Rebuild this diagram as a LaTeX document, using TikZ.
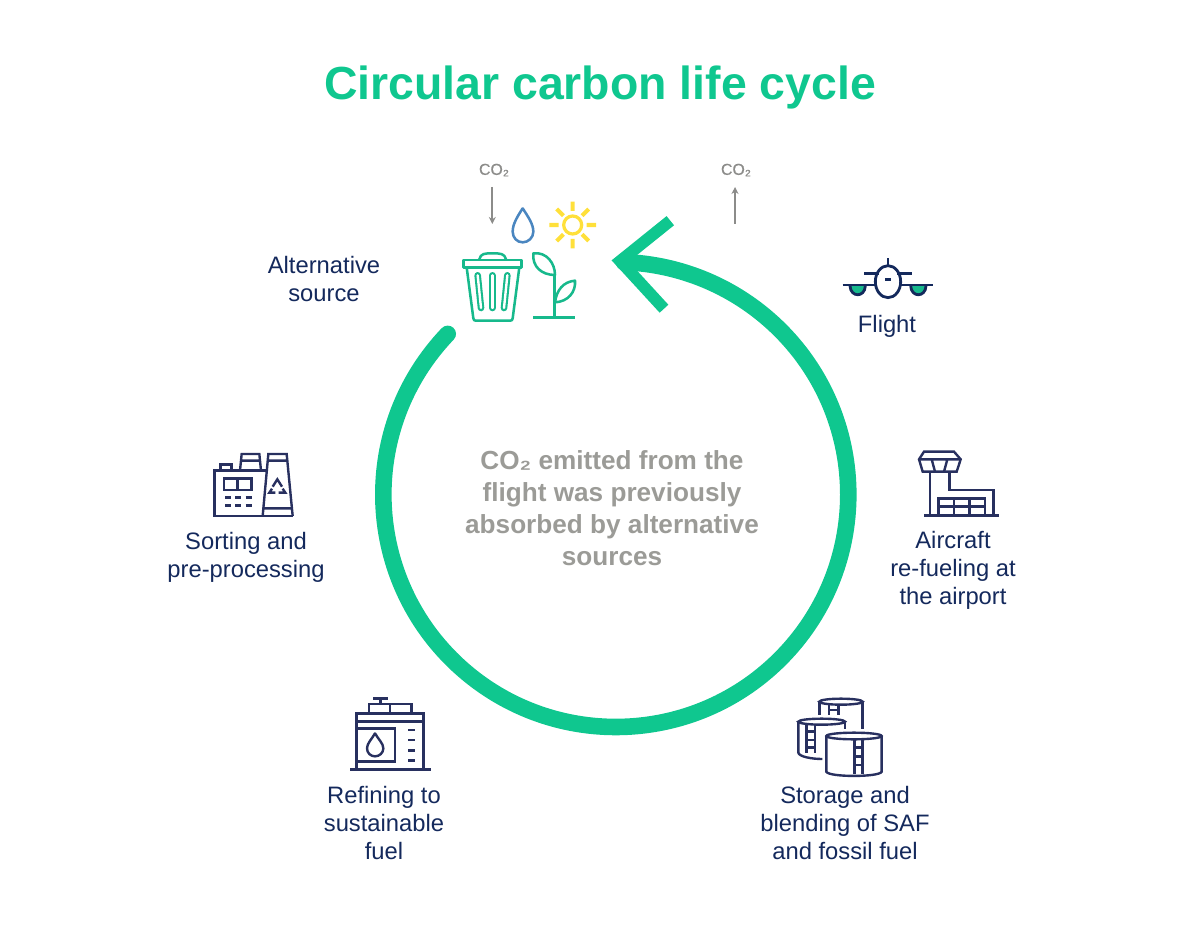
\documentclass[tikz,border=0pt]{standalone}
\usepackage{fontspec}
\setmainfont{Liberation Sans}
\usetikzlibrary{arrows.meta}
\definecolor{cgreen}{HTML}{0FC78F}
\definecolor{igreen}{HTML}{17B98C}
\definecolor{navy}{HTML}{14295C}
\definecolor{iconnavy}{HTML}{28305F}
\definecolor{cgrey}{HTML}{9B9B97}
\definecolor{agrey}{HTML}{8C8C8A}
\definecolor{cblue}{HTML}{4A86C0}
\definecolor{csun}{HTML}{FFE03A}
\tikzset{
  lab/.style={inner sep=0pt,align=center,text=navy,font=\fontsize{16.9}{19.8}\selectfont},
  midtext/.style={inner sep=0pt,align=center,text=cgrey,font=\fontsize{18.6}{22.7}\selectfont\bfseries},
  co/.style={inner sep=0pt,text=agrey,font=\fontsize{11.3}{13}\selectfont\addfontfeature{FakeBold=0.4}},
  titletext/.style={inner sep=0pt,text=cgreen,font=\fontsize{33}{40}\selectfont\bfseries},
  ring/.style={draw=cgreen,line width=11.8pt,line cap=round},
  head/.style={draw=cgreen,line width=8.4pt,miter limit=10},
  co2arrow/.style={draw=agrey,line width=1.2pt,-{Stealth[length=5pt,width=5pt]}},
  ico/.style={draw=iconnavy,line width=1.7pt},
  plane/.style={draw=navy,line width=2pt},
  gico/.style={draw=igreen,line width=1.8pt,line join=round},
  slot/.style={draw=igreen,line width=1.5pt,double=white,double distance=1.7pt,line cap=round},
  zoomed/.style={shift={#1},scale=1/3}
}
\begin{document}
\begin{tikzpicture}[x=0.025cm,y=-0.025cm]
\useasboundingbox (0,0) rectangle (1200,938);

\node[titletext] (title) at (600,88) {Circular carbon life cycle};

% ring
\coordinate (ringc) at (615.8,494.5);
\draw[ring] ([shift={(223.7:232.5)}]ringc) arc [start angle=223.7,end angle=-88,radius=232.5];
\coordinate (barbA) at (670.3,220.7);
\coordinate (barbV) at (620.2,261);
\coordinate (barbB) at (664,308.7);
\draw[head] (barbA) -- (barbV) -- (barbB);

% CO2
\node[co] (coL) at (494,170) {CO₂};
\node[co] (coR) at (736,170) {CO₂};
\coordinate (coLa) at (492.3,187);
\coordinate (coLb) at (492.3,224);
\coordinate (coRa) at (735,224);
\coordinate (coRb) at (735,187);
\draw[co2arrow] (coLa) -- (coLb);
\draw[co2arrow] (coRa) -- (coRb);

% icons top (zoom 1 coordinates)
\begin{scope}[zoomed={(440,150)}]
  % drop
  \draw[draw=cblue,line width=1.8pt,line join=round] (248,175) .. controls (232,200) and (218,222) .. (218,245)
     .. controls (218,263) and (231,277) .. (248,277) .. controls (265,277) and (280,263) .. (280,245)
     .. controls (280,222) and (264,200) .. cycle;
  % sun
  \draw[draw=csun,line width=2.3pt] (398,225) circle [radius=27];
  \draw[draw=csun,line width=2.9pt]
    (398,155)--(398,183) (398,267)--(398,295) (328,225)--(356,225) (440,225)--(468,225)
    (350,177)--(370,197) (426,253)--(446,273) (350,273)--(370,253) (426,197)--(446,177);
  % bin
  \draw[gico] (70,330) rectangle (245,352);
  \draw[gico] (118,328) .. controls (122,310) and (135,310) .. (157,310) .. controls (180,310) and (194,310) .. (198,328);
  \draw[gico] (80,352) -- (100,505) .. controls (101,511) and (103,512) .. (108,512) -- (210,512) .. controls (215,512) and (217,511) .. (218,505) -- (238,352);
  \draw[slot] (113,376) -- (123,474);
  \draw[slot] (157,376) -- (157,474);
  \draw[slot] (202,376) -- (192,474);
  % plant
  \draw[gico,line width=2.2pt] (280,503) -- (405,503);
  \draw[gico] (343,503) -- (343,372);
  \draw[gico] (280,310) .. controls (320,305) and (345,340) .. (345,375) .. controls (305,375) and (276,350) .. cycle;
  \draw[gico] (345,457) .. controls (350,420) and (370,395) .. (405,392) .. controls (408,425) and (385,455) .. cycle;
\end{scope}

% plane and tower (zoom 2 coordinates)
\begin{scope}[zoomed={(830,250)}]
  \fill[igreen] (60,108) .. controls (62,143) and (104,143) .. (106,108) -- cycle;
  \fill[igreen] (242,108) .. controls (244,143) and (286,143) .. (288,108) -- cycle;
  \draw[plane] (60,108) .. controls (62,143) and (104,143) .. (106,108);
  \draw[plane] (242,108) .. controls (244,143) and (286,143) .. (288,108);
  \draw[plane] (174,95) ellipse [x radius=38,y radius=48];
  \draw[plane] (38,105)--(136,105) (212,105)--(310,105) (103,70)--(146,70) (202,70)--(245,70) (174,25)--(174,47) (166,88)--(182,88);
  % tower
  \draw[ico] (282,605)--(372,605)--(392,628)--(380,665)--(278,665)--(267,628)--cycle;
  \draw[ico] (267,628)--(392,628) (305,628)--(315,665) (352,628)--(342,665);
  \draw[ico] (300,665)--(300,797) (358,665)--(358,720)--(490,720)--(490,797);
  \draw[ico] (282,797)--(508,797);
  \draw[ico] (325,797)--(325,745)--(465,745)--(465,797) (325,770)--(465,770) (372,745)--(372,797) (418,745)--(418,797);
\end{scope}

% factory
\begin{scope}[zoomed={(200,440)}]
  \draw[ico] (43,228)--(43,92)--(200,92);
  \draw[ico] (40,228)--(280,228);
  \draw[ico] (72,115) rectangle (155,150) (113,115)--(113,150);
  \draw[ico] (75,172)--(92,172) (105,172)--(122,172) (137,172)--(155,172) (75,197)--(92,197) (105,197)--(122,197) (137,197)--(155,197);
  \draw[ico] (62,92)--(62,73)--(95,73)--(95,92);
  \draw[ico] (120,92)--(125,42)--(178,42)--(183,92) (122,62)--(180,62);
  \draw[ico] (188,228)--(205,42)--(260,42)--(278,228) (203,62)--(262,62) (192,205)--(274,205);
  \draw[ico] (218,140)--(232,118)--(246,140) (248,146)--(256,158)--(236,158) (226,158)--(208,158)--(216,146);
\end{scope}

% refinery
\begin{scope}[zoomed={(340,690)}]
  \draw[ico] (100,25)--(145,25) (122,25)--(122,42);
  \draw[ico] (87,70)--(87,42)--(215,42)--(215,70) (150,42)--(150,70);
  \draw[ico] (50,238)--(50,70)--(250,70)--(250,238) (50,95)--(250,95);
  \draw[ico] (30,238)--(272,238);
  \draw[ico] (50,115)--(165,115)--(165,215)--(50,215);
  \draw[ico,line join=round] (105,130) .. controls (95,148) and (81,160) .. (81,175) .. controls (81,189) and (92,199) .. (105,199) .. controls (118,199) and (130,189) .. (130,175) .. controls (130,160) and (115,148) .. cycle;
  \draw[ico] (205,120)--(225,120) (205,150)--(225,150) (205,182)--(225,182) (205,212)--(225,212);
\end{scope}

% tanks
\begin{scope}[zoomed={(785,690)}]
  \draw[ico] (168,35) ellipse [x radius=65,y radius=9];
  \draw[ico] (103,35)--(103,75) (233,35)--(233,118);
  \draw[ico] (132,45)--(132,75) (160,45)--(160,75) (132,60)--(160,60);
  \draw[ico] (110,95) ellipse [x radius=70,y radius=9];
  \draw[ico] (40,95)--(40,188) .. controls (42,200) and (80,207) .. (112,207);
  \draw[ico] (180,95)--(180,118);
  \draw[ico] (65,105)--(65,190) (90,105)--(90,190) (65,125)--(90,125) (65,150)--(90,150) (65,172)--(90,172);
  \draw[ico] (207,138) ellipse [x radius=83,y radius=10];
  \draw[ico] (124,138)--(124,245) .. controls (130,262) and (284,262) .. (290,245) -- (290,138);
  \draw[ico] (208,150)--(208,252) (232,150)--(232,252) (208,172)--(232,172) (208,200)--(232,200) (208,225)--(232,225);
\end{scope}

% labels
\node[lab] (lAlt) at (324,279) {Alternative\\source};
\node[lab] (lFlight) at (887,326) {Flight};
\node[lab] (lAir) at (953,570.5) {Aircraft\\re-fueling at\\the airport};
\node[lab] (lSort) at (246,557) {Sorting and\\pre-processing};
\node[lab] (lRef) at (384,823) {Refining to\\sustainable\\fuel};
\node[lab] (lSto) at (845,823) {Storage and\\blending of SAF\\and fossil fuel};
\node[midtext] (mid) at (612,508) {CO₂ emitted from the\\flight was previously\\absorbed by alternative\\sources};
\end{tikzpicture}
\end{document}
